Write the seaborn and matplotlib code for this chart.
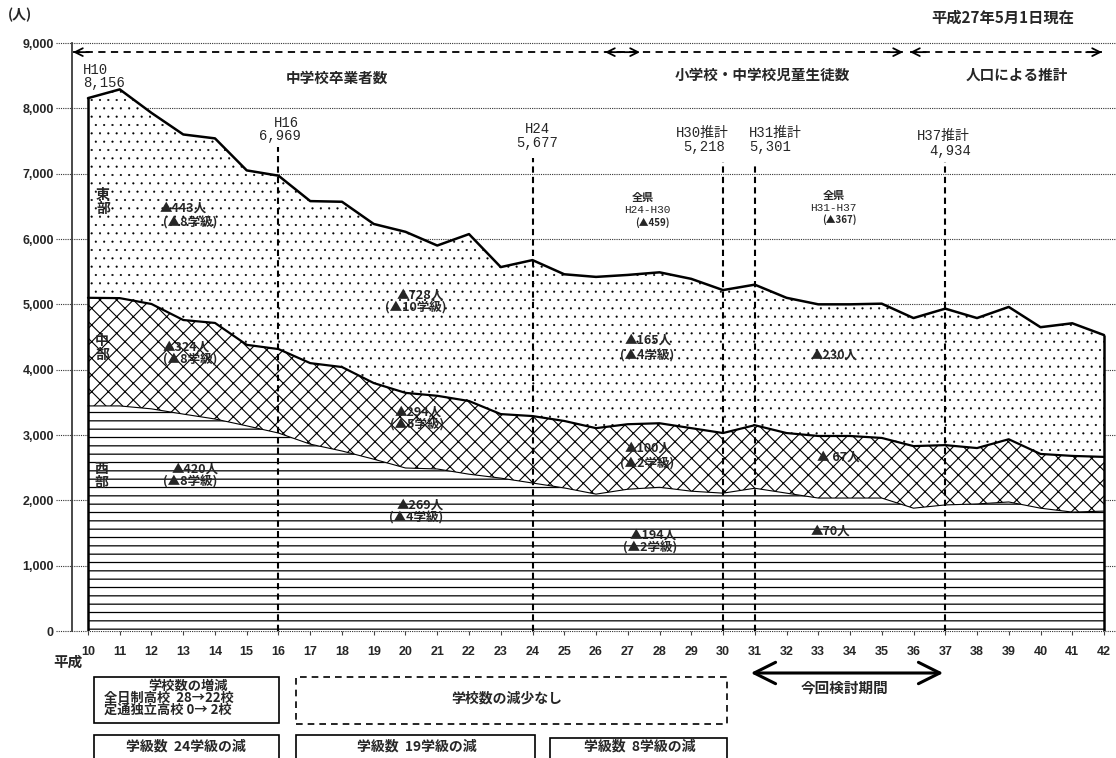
import numpy as np
import pandas as pd
import matplotlib
matplotlib.use("Agg")
import matplotlib.pyplot as plt
import seaborn as sns
from matplotlib.patches import Rectangle

# data (平成 years 10-42)
years = list(range(10, 43))
total = [8156, 8290, 7930, 7600, 7540, 7050, 6969, 6580, 6570, 6230, 6110,
         5900, 6075, 5570, 5677, 5460, 5420, 5450, 5490, 5390, 5218, 5301,
         5100, 5000, 5000, 5010, 4790, 4934, 4790, 4960, 4650, 4710, 4530]
chubu_top = [5100, 5095, 5005, 4760, 4715, 4380, 4315, 4100, 4040, 3795, 3645,
             3600, 3520, 3320, 3290, 3215, 3105, 3165, 3180, 3105, 3030, 3150,
             3030, 2985, 2985, 2955, 2830, 2845, 2800, 2935, 2710, 2680, 2665]
seibu = [3445, 3445, 3400, 3320, 3245, 3140, 3030, 2860, 2755, 2630, 2495,
         2480, 2400, 2340, 2265, 2190, 2095, 2170, 2200, 2140, 2110, 2185,
         2110, 2035, 2035, 2035, 1880, 1930, 1945, 1975, 1880, 1820, 1835]
yticks = list(range(0, 9001, 1000))

# marked years with labels
mark_years = [16, 24, 30, 31, 37]
mark_tops = [7410, 7240, 7180, 7130, 7180]

df = pd.DataFrame({"year": years, "total": total, "chubu": chubu_top, "seibu": seibu})

sns.set_theme(style="white")
plt.rcParams["font.family"] = ["Noto Sans CJK JP", "DejaVu Sans"]
plt.rcParams["hatch.linewidth"] = 0.9
plt.rcParams["hatch.color"] = "black"

W, H = 1116, 758
fig = plt.figure(figsize=(W / 100, H / 100), dpi=100)
ax = fig.add_axes([72 / W, 1 - 631 / H, (1110 - 72) / W, (631 - 43) / H])


def px2x(px):
    return 10 + (px - 88) / 31.75


def ft(px, py, s, **kw):
    kw.setdefault("ha", "center")
    kw.setdefault("va", "center")
    fig.text(px / W, 1 - py / H, s, **kw)


ax.set_xlim(px2x(72), px2x(1110))
ax.set_ylim(0, 9000)

# dotted grid, extended left of the axis like the original
for v in yticks:
    ax.plot([px2x(56), px2x(1116)], [v, v], ls=(0, (1, 1)), color="#333333",
            lw=0.8, clip_on=False, zorder=0.5)

# stacked hatched areas
ax.fill_between(df.year, 0, df.seibu, facecolor="white", edgecolor="black",
                hatch="--", lw=0, zorder=2)
with plt.rc_context({"hatch.linewidth": 0.8}):
    ax.fill_between(df.year, df.seibu, df.chubu, facecolor="white", edgecolor="black",
                    hatch="xx", lw=0, zorder=2)
with plt.rc_context({"hatch.linewidth": 0.3}):
    ax.fill_between(df.year, df.chubu, df.total, facecolor="white", edgecolor="black",
                    hatch="..", lw=0, zorder=2)

sns.lineplot(data=df, x="year", y="total", color="black", lw=1.8, ax=ax, zorder=4)
sns.lineplot(data=df, x="year", y="chubu", color="black", lw=1.6, ax=ax, zorder=4)
sns.lineplot(data=df, x="year", y="seibu", color="black", lw=0.8, ax=ax, zorder=4)
ax.vlines([years[0]], 0, total[0], color="black", lw=1.8, zorder=4)
ax.vlines([years[-1]], 0, total[-1], color="black", lw=1.8, zorder=4)

ax.vlines(mark_years, 0, mark_tops, color="black", lw=1.5, ls=(0, (3, 2)), zorder=5)

# axes styling
for s in ["top", "right", "bottom"]:
    ax.spines[s].set_visible(False)
ax.spines["left"].set_linestyle((0, (1, 1)))
ax.spines["left"].set_color("#333333")
ax.set_xlabel("")
ax.set_ylabel("")
ax.set_xticks(years)
ax.set_xticklabels([str(y) for y in years], fontsize=9, fontweight="bold",
                   family="Liberation Sans")
ax.set_yticks(yticks)
ax.set_yticklabels([f"{v:,}" for v in yticks], fontsize=9, fontweight="bold",
                   family="Liberation Sans")
ax.tick_params(axis="x", length=3, width=0.8, color="#444444", pad=8, bottom=True)
ax.tick_params(axis="y", length=0, pad=13)

# top dashed range arrows
ya = 8860
for x1, x2 in [(73, 640), (605, 903), (910, 1102)]:
    ax.plot([px2x(x1), px2x(x2)], [ya, ya], color="black", lw=1.3, ls=(0, (4, 3)), zorder=5)
for xh, d in [(73, 1), (640, -1), (605, 1), (903, -1), (910, 1), (1102, -1)]:
    ax.annotate("", xy=(px2x(xh), ya), xytext=(px2x(xh) + d * 0.5, ya),
                arrowprops=dict(arrowstyle="->", lw=1.3, color="black",
                                mutation_scale=14, shrinkA=0, shrinkB=0))

ft(20, 15, "(人)", fontsize=10, fontweight="bold")
ft(1003, 18, "平成27年5月1日現在", fontsize=11, fontweight="bold")
ft(337, 78, "中学校卒業者数", fontsize=10.5, fontweight="bold")
ft(762, 75, "小学校・中学校児童生徒数", fontsize=10.5, fontweight="bold")
ft(1017, 75, "人口による推計", fontsize=10.5, fontweight="bold")

# point labels
mono = ["Liberation Mono", "Noto Sans CJK JP"]
ft(83, 70, "H10", fontsize=10, family=mono, ha="left")
ft(83, 83, "8,156", fontsize=10, family=mono, ha="left")
for cx, y1, s1, cx2, y2, s2 in [(286, 123, "H16", 280, 136, "6,969"),
                                (537, 129, "H24", 537, 143, "5,677"),
                                (702, 133, "H30推計", 704, 147, "5,218"),
                                (775, 133, "H31推計", 770, 147, "5,301"),
                                (943, 136, "H37推計", 950, 151, "4,934")]:
    ft(cx, y1, s1, fontsize=10, family=mono)
    ft(cx2, y2, s2, fontsize=10, family=mono)

# region names
ft(103, 202, "東\n部", fontsize=10, fontweight="bold", linespacing=1.0)
ft(102, 348, "中\n部", fontsize=10, fontweight="bold", linespacing=1.0)
ft(101, 476, "西\n部", fontsize=10, fontweight="bold", linespacing=1.0)

# decrease notes
notes = [(183, 208, "▲443人", 190, 223, "(▲8学級)"),
         (186, 347, "▲324人", 190, 360, "(▲8学級)"),
         (195, 469, "▲420人", 190, 482, "(▲8学級)"),
         (420, 295, "▲728人", 416, 308, "(▲10学級)"),
         (418, 412, "▲294人", 417, 425, "(▲5学級)"),
         (420, 505, "▲269人", 416, 518, "(▲4学級)"),
         (648, 340, "▲165人", 647, 356, "(▲4学級)"),
         (648, 448, "▲100人", 647, 464, "(▲2学級)"),
         (653, 535, "▲194人", 650, 548, "(▲2学級)")]
for x1, y1, s1, x2, y2, s2 in notes:
    ft(x1, y1, s1, fontsize=9, fontweight="bold")
    ft(x2, y2, s2, fontsize=9, fontweight="bold")
ft(834, 355, "▲230人", fontsize=9, fontweight="bold")
ft(838, 457, "▲ 67人", fontsize=9, fontweight="bold")
ft(830, 531, "▲70人", fontsize=9, fontweight="bold")

ft(643, 197, "全県", fontsize=8, fontweight="bold")
ft(647, 210, "H24-H30", fontsize=8, family=mono)
ft(652, 223, "(▲459)", fontsize=7, fontweight="bold")
ft(834, 195, "全県", fontsize=8, fontweight="bold")
ft(833, 208, "H31-H37", fontsize=8, family=mono)
ft(839, 220, "(▲367)", fontsize=7, fontweight="bold")

# bottom boxes
ft(68, 662, "平成", fontsize=10.5, fontweight="bold")


def box(x1, y1, x2, y2, ls="-"):
    fig.add_artist(Rectangle((x1 / W, 1 - y2 / H), (x2 - x1) / W, (y2 - y1) / H,
                             fill=False, lw=1.2, ec="black", ls=ls,
                             transform=fig.transFigure))


box(94, 677, 279, 723)
ft(188, 686, "学校数の増減", fontsize=9.5, fontweight="bold")
ft(104, 698, "全日制高校  28→22校", fontsize=9.5, fontweight="bold", ha="left")
ft(104, 710, "定通独立高校 0→ 2校", fontsize=9.5, fontweight="bold", ha="left")
box(296, 677, 727, 724, ls=(0, (4, 3)))
ft(507, 699, "学校数の減少なし", fontsize=10, fontweight="bold")
box(94, 735, 279, 775)
ft(186, 746, "学級数  24学級の減", fontsize=10, fontweight="bold")
box(296, 735, 535, 775)
ft(417, 746, "学級数  19学級の減", fontsize=10, fontweight="bold")
box(550, 738, 727, 775)
ft(640, 747, "学級数  8学級の減", fontsize=10, fontweight="bold")

fig.add_artist(matplotlib.patches.FancyArrowPatch(
    (748 / W, 1 - 673 / H), (946 / W, 1 - 673 / H), transform=fig.transFigure,
    arrowstyle="<->,head_length=0.7,head_width=0.35", mutation_scale=22,
    lw=2.2, color="black"))
ft(845, 688, "今回検討期間", fontsize=10.5, fontweight="bold")

fig.savefig("out.png", dpi=100)
